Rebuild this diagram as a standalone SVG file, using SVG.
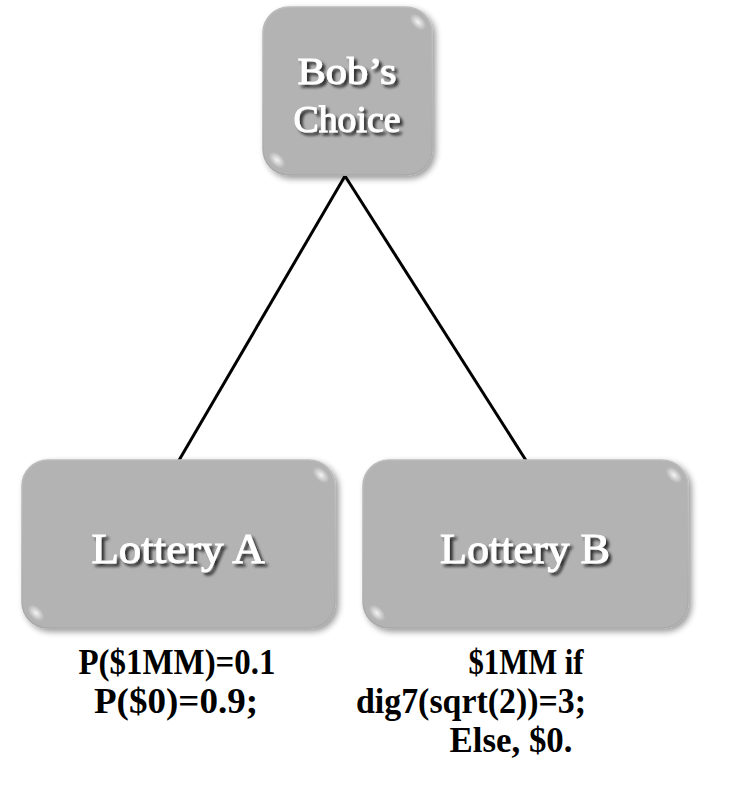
<svg xmlns="http://www.w3.org/2000/svg" width="744" height="795" viewBox="0 0 744 795">
  <defs>
    <filter id="boxShadow" x="-10%" y="-10%" width="125%" height="125%">
      <feGaussianBlur in="SourceAlpha" stdDeviation="3"/>
      <feOffset dx="3" dy="3" result="b"/>
      <feComponentTransfer><feFuncA type="linear" slope="0.4"/></feComponentTransfer>
      <feMerge><feMergeNode/><feMergeNode in="SourceGraphic"/></feMerge>
    </filter>
    <filter id="textShadow" x="-10%" y="-20%" width="130%" height="150%">
      <feGaussianBlur in="SourceAlpha" stdDeviation="1.5"/>
      <feOffset dx="2.5" dy="3" result="s"/>
      <feComponentTransfer><feFuncA type="linear" slope="0.75"/></feComponentTransfer>
      <feMerge><feMergeNode/><feMergeNode in="SourceGraphic"/></feMerge>
    </filter>
    <radialGradient id="gloss" cx="0.5" cy="0.5" r="0.5">
      <stop offset="0" stop-color="#ffffff" stop-opacity="0.85"/>
      <stop offset="1" stop-color="#ffffff" stop-opacity="0"/>
    </radialGradient>
    <linearGradient id="rim" x1="0" y1="0" x2="0" y2="1">
      <stop offset="0" stop-color="#bdbdbd"/>
      <stop offset="1" stop-color="#a9a9a9"/>
    </linearGradient>
  </defs>
  <style>
    .box { fill: #b3b3b3; stroke: url(#rim); stroke-width: 1.5; }
    .label { font-family: "Liberation Serif", "Times New Roman", serif; fill: #ffffff; stroke: #ffffff; stroke-width: 1; text-anchor: middle; }
    .note { font-family: "Liberation Serif", "Times New Roman", serif; font-weight: bold; font-size: 36px; fill: #000000; text-anchor: middle; }
    .edge { stroke: #000000; stroke-width: 3; fill: none; }
  </style>

  <rect width="744" height="795" fill="#ffffff"/>

  <g id="connectors">
    <line class="edge" x1="345" y1="176" x2="178" y2="462"/>
    <line class="edge" x1="345" y1="176" x2="527" y2="462"/>
  </g>

  <g id="bobs-choice">
    <rect class="box" x="263" y="7" width="169" height="168" rx="26" filter="url(#boxShadow)"/>
    <ellipse cx="418" cy="22" rx="10" ry="6" fill="url(#gloss)" transform="rotate(45 418 22)"/>
    <ellipse cx="277" cy="160" rx="10" ry="6" fill="url(#gloss)" transform="rotate(45 277 160)"/>
    <g filter="url(#textShadow)">
      <text class="label" x="347" y="84" font-size="37" textLength="99" lengthAdjust="spacingAndGlyphs">Bob’s</text>
      <text class="label" x="347" y="132" font-size="37" textLength="107" lengthAdjust="spacingAndGlyphs">Choice</text>
    </g>
  </g>

  <g id="lottery-a">
    <rect class="box" x="22" y="460" width="313" height="168" rx="26" filter="url(#boxShadow)"/>
    <ellipse cx="321" cy="475" rx="10" ry="6" fill="url(#gloss)" transform="rotate(45 321 475)"/>
    <ellipse cx="36" cy="613" rx="10" ry="6" fill="url(#gloss)" transform="rotate(45 36 613)"/>
    <text class="label" x="178" y="563" font-size="42" textLength="173" lengthAdjust="spacingAndGlyphs" filter="url(#textShadow)">Lottery A</text>
  </g>

  <g id="lottery-b">
    <rect class="box" x="363" y="460" width="325" height="168" rx="26" filter="url(#boxShadow)"/>
    <ellipse cx="674" cy="475" rx="10" ry="6" fill="url(#gloss)" transform="rotate(45 674 475)"/>
    <ellipse cx="377" cy="613" rx="10" ry="6" fill="url(#gloss)" transform="rotate(45 377 613)"/>
    <text class="label" x="525" y="563" font-size="42" textLength="170" lengthAdjust="spacingAndGlyphs" filter="url(#textShadow)">Lottery B</text>
  </g>

  <g id="note-a">
    <text class="note" x="177" y="674" textLength="197" lengthAdjust="spacingAndGlyphs">P($1MM)=0.1</text>
    <text class="note" x="176" y="713" textLength="164" lengthAdjust="spacingAndGlyphs">P($0)=0.9;</text>
  </g>

  <g id="note-b">
    <text class="note" x="526" y="674" textLength="115" lengthAdjust="spacingAndGlyphs">$1MM if</text>
    <text class="note" x="471" y="713" textLength="230" lengthAdjust="spacingAndGlyphs">dig7(sqrt(2))=3;</text>
    <text class="note" x="511" y="752" textLength="123" lengthAdjust="spacingAndGlyphs">Else, $0.</text>
  </g>
</svg>
